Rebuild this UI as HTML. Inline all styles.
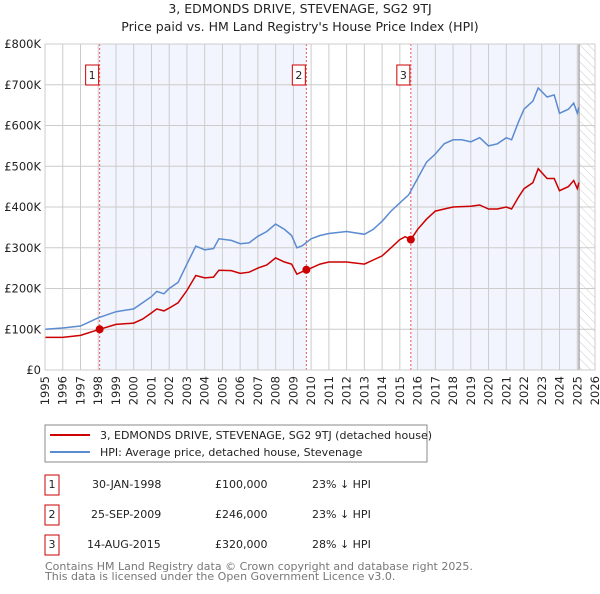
<!DOCTYPE html>
<html><head><meta charset="utf-8"><style>
body{margin:0;background:#fff;width:600px;height:590px;overflow:hidden;font-family:"DejaVu Sans","Liberation Sans",sans-serif}
svg text{font-family:"DejaVu Sans","Liberation Sans",sans-serif}
</style></head><body>
<svg id="c" width="600" height="590" xmlns="http://www.w3.org/2000/svg">
<defs><pattern id="hatch" width="6" height="6" patternUnits="userSpaceOnUse" patternTransform="rotate(-45)"><line x1="0" y1="0" x2="0" y2="6" stroke="#ccc" stroke-width="1"/></pattern></defs>
<text x="300" y="13" text-anchor="middle" font-size="12.5" fill="#222">3, EDMONDS DRIVE, STEVENAGE, SG2 9TJ</text>
<text x="300" y="31" text-anchor="middle" font-size="12.5" fill="#222">Price paid vs. HM Land Registry's House Price Index (HPI)</text>
<g id="plot"></g>
<rect x="45" y="425" width="382" height="37" fill="#fff" stroke="#888"/>
<line x1="50" y1="435" x2="90" y2="435" stroke="#cc0000" stroke-width="2"/>
<text x="100" y="439" font-size="11" fill="#222">3, EDMONDS DRIVE, STEVENAGE, SG2 9TJ (detached house)</text>
<line x1="50" y1="452" x2="90" y2="452" stroke="#5b8bd0" stroke-width="2"/>
<text x="100" y="456" font-size="11" fill="#222">HPI: Average price, detached house, Stevenage</text>
<g font-size="11" fill="#222">
<rect x="45" y="475" width="14" height="20" fill="#fff" stroke="#c00"/><text x="52" y="488" text-anchor="middle">1</text>
<text x="92" y="488">30-JAN-1998</text><text x="215" y="488">£100,000</text><text x="312" y="488">23% ↓ HPI</text>
<rect x="45" y="505" width="14" height="20" fill="#fff" stroke="#c00"/><text x="52" y="518" text-anchor="middle">2</text>
<text x="91" y="518">25-SEP-2009</text><text x="215" y="518">£246,000</text><text x="312" y="518">23% ↓ HPI</text>
<rect x="45" y="535" width="14" height="20" fill="#fff" stroke="#c00"/><text x="52" y="548" text-anchor="middle">3</text>
<text x="87" y="548">14-AUG-2015</text><text x="215" y="548">£320,000</text><text x="312" y="548">28% ↓ HPI</text>
</g>
<text x="45" y="570" font-size="11" fill="#777">Contains HM Land Registry data © Crown copyright and database right 2025.</text>
<text x="45" y="580" font-size="11" fill="#777">This data is licensed under the Open Government Licence v3.0.</text>
</svg>
<script>
const hpiYears=[1995,1996,1997,1998,1999,2000,2000.5,2001,2001.3,2001.7,2002,2002.5,2003,2003.5,2004,2004.5,2004.8,2005.5,2006,2006.5,2007,2007.5,2008,2008.5,2008.9,2009.2,2009.5,2010,2010.5,2011,2012,2013,2013.5,2014,2014.5,2015,2015.5,2016,2016.5,2017,2017.5,2018,2018.5,2019,2019.5,2020,2020.5,2021,2021.3,2021.7,2022,2022.5,2022.8,2023.3,2023.7,2024,2024.5,2024.8,2025,2025.1];
const hpiValues=[100,103,108,128,143,150,165,180,193,187,200,215,260,304,295,298,322,318,310,312,328,340,358,345,330,300,305,322,330,335,340,333,345,365,390,410,430,470,510,530,555,565,565,560,570,550,555,570,565,610,640,660,692,670,675,630,640,655,630,645];
const ppYears=[1995,1996,1997,1998.08,1999,2000,2000.5,2001,2001.3,2001.7,2002,2002.5,2003,2003.5,2004,2004.5,2004.8,2005.5,2006,2006.5,2007,2007.5,2008,2008.5,2008.9,2009.2,2009.73,2010,2010.5,2011,2012,2013,2013.5,2014,2014.5,2015,2015.3,2015.62,2016,2016.5,2017,2017.5,2018,2019,2019.5,2020,2020.5,2021,2021.3,2021.7,2022,2022.5,2022.8,2023.3,2023.7,2024,2024.5,2024.8,2025,2025.1];
const ppValues=[80,80,85,100,112,115,125,140,150,145,152,165,195,232,226,228,245,244,237,240,250,258,275,265,260,235,246,250,260,265,265,260,270,280,300,320,327,320,345,370,390,395,400,402,405,395,395,400,395,425,445,460,494,470,470,440,450,465,445,460];
const saleYears=[1998.08,2009.73,2015.62];
const saleValues=[100,246,320];
const saleLabels=["1","2","3"];
const yTicks=[0,100,200,300,400,500,600,700,800];
const yTickLabels=["£0","£100K","£200K","£300K","£400K","£500K","£600K","£700K","£800K"];
const xTicks=[1995,1996,1997,1998,1999,2000,2001,2002,2003,2004,2005,2006,2007,2008,2009,2010,2011,2012,2013,2014,2015,2016,2017,2018,2019,2020,2021,2022,2023,2024,2025,2026];
const dataEnd=2025.1;

const X0=45,X1=595,Y0=370,Y1=44;
const x=v=>X0+(v-1995)/(2026-1995)*(X1-X0);
const y=v=>Y0-v/800*(Y0-Y1);
const NS="http://www.w3.org/2000/svg";
const g=document.getElementById('plot');
function mk(t,a){const e=document.createElementNS(NS,t);for(const k in a)e.setAttribute(k,a[k]);g.appendChild(e);return e;}
let e;
e=mk('rect',{x:X0,y:Y1,width:X1-X0,height:Y0-Y1,fill:'#fff'});


e=mk('rect',{x:x(saleYears[0]),y:Y1,width:x(saleYears[1])-x(saleYears[0]),height:Y0-Y1,fill:'#f2f5fd'});


e=mk('rect',{x:x(saleYears[2]),y:Y1,width:x(dataEnd)-x(saleYears[2]),height:Y0-Y1,fill:'#f2f5fd'});


e=mk('rect',{x:x(dataEnd),y:Y1,width:X1-x(dataEnd),height:Y0-Y1,fill:'url(#hatch)'});


xTicks.forEach(t=>{
 e=mk('line',{x1:x(t),x2:x(t),y1:Y1,y2:Y0,stroke:'#ccc','stroke-width':1});
 
 
 e=mk('text',{x:0,y:0,'font-size':11.5,fill:'#222','text-anchor':'end',transform:`translate(${x(t)+4},${Y0+6}) rotate(-90)`});
 e.textContent=t;
 
 
});
yTicks.forEach((t,i)=>{
 e=mk('line',{x1:X0,x2:X1,y1:y(t),y2:y(t),stroke:'#ccc','stroke-width':1});
 
 
 e=mk('text',{x:X0-4,y:y(t)+4,'font-size':11.5,fill:'#222','text-anchor':'end'});
 e.textContent=yTickLabels[i];
 
 
});
e=mk('line',{x1:x(dataEnd),x2:x(dataEnd),y1:Y1,y2:Y0,stroke:'#999','stroke-width':1.2});


saleYears.forEach((s,i)=>{
 e=mk('line',{x1:x(s),x2:x(s),y1:Y1,y2:Y0,stroke:'#e55','stroke-width':1,'stroke-dasharray':'2,2'});
 
 
 e=mk('rect',{x:x(s)-14,y:65,width:13,height:20,fill:'#fff',stroke:'#c00'});
 
 
 e=mk('text',{x:x(s)-7.5,y:79,'font-size':11,fill:'#222','text-anchor':'middle'});
 e.textContent=saleLabels[i];
 
 
});
e=mk('path',{d:hpiYears.map((v,i)=>(i?'L':'M')+x(v).toFixed(1)+','+y(hpiValues[i]).toFixed(1)).join(''),fill:'none',stroke:'#5b8bd0','stroke-width':1.5});


e=mk('path',{d:ppYears.map((v,i)=>(i?'L':'M')+x(v).toFixed(1)+','+y(ppValues[i]).toFixed(1)).join(''),fill:'none',stroke:'#cc0000','stroke-width':1.5});


saleYears.forEach((s,i)=>{
 e=mk('circle',{cx:x(s),cy:y(saleValues[i]),r:4,fill:'#cc0000'});
 
 
});
e=mk('rect',{x:X0,y:Y1,width:X1-X0,height:Y0-Y1,fill:'none',stroke:'#ccc'});


</script>
</body></html>
